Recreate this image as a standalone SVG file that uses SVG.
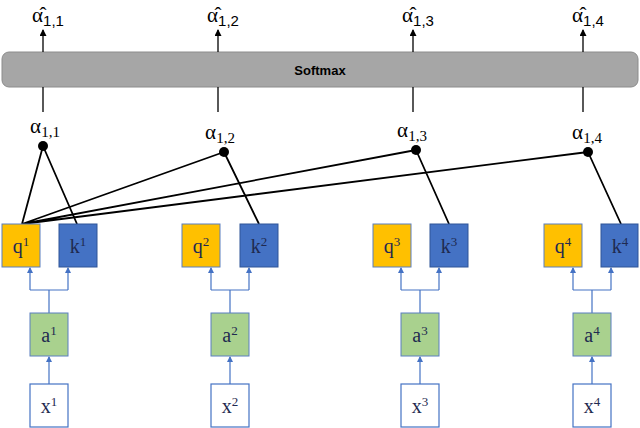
<svg xmlns="http://www.w3.org/2000/svg" width="640" height="428" viewBox="0 0 640 428">
<style>
.q{fill:#ffc000;stroke:#5b7fc0;stroke-width:1}
.k{fill:#4472c4;stroke:#2f5597;stroke-width:1}
.a{fill:#a9d18e;stroke:#5b7fc0;stroke-width:1}
.x{fill:#fff;stroke:#4472c4;stroke-width:1.2}
.t{font-family:"Liberation Serif",serif;font-size:20px;fill:#1f2a50;text-anchor:middle}
.al{font-family:"Liberation Serif",serif;font-size:21px;fill:#000;text-anchor:middle}
.b{stroke:#4472c4;stroke-width:1.2;fill:none}
.k2{stroke:#000;stroke-width:1.8;fill:none}
.ar{stroke:#000;stroke-width:1.3;fill:none}
</style>
<defs>
<marker id="ba" markerWidth="6" markerHeight="6" refX="5" refY="3" orient="auto" markerUnits="userSpaceOnUse"><path d="M0,0L6,3L0,6z" fill="#4472c4"/></marker>
<marker id="ka" markerWidth="7" markerHeight="7" refX="6" refY="3.5" orient="auto" markerUnits="userSpaceOnUse"><path d="M0,0L7,3.5L0,7z" fill="#000"/></marker>
</defs>
<g id="softmax"><rect x="2" y="52" width="636" height="35" rx="7" fill="#a6a6a6" stroke="#8c8c8c"/><text x="320" y="75" font-family="Liberation Sans,sans-serif" font-weight="bold" font-size="13" text-anchor="middle">Softmax</text></g>
<g id="connectors">
<path class="ar" d="M43,52V30" marker-end="url(#ka)"/>
<path class="ar" d="M218,52V30" marker-end="url(#ka)"/>
<path class="ar" d="M413,52V30" marker-end="url(#ka)"/>
<path class="ar" d="M583,52V30" marker-end="url(#ka)"/>
<path class="ar" d="M43,112V87M218,112V87M413,112V87M583,112V87"/>
<path class="k2" d="M22,224L43,146M22,224L224,152M22,224L416,150M22,224L588,152M77,224L43,146M259,224L224,152M449,224L416,150M621,224L588,152"/>
<g fill="#000"><circle cx="43" cy="146" r="5"/><circle cx="224" cy="152" r="5"/><circle cx="416" cy="150" r="5"/><circle cx="588" cy="152" r="5"/></g>
<path class="b" d="M49,313V290M30,290H68"/>
<path class="b" d="M30,290V268" marker-end="url(#ba)"/>
<path class="b" d="M68,290V268" marker-end="url(#ba)"/>
<path class="b" d="M49,384V357" marker-end="url(#ba)"/>
<path class="b" d="M230,313V290M211,290H249"/>
<path class="b" d="M211,290V268" marker-end="url(#ba)"/>
<path class="b" d="M249,290V268" marker-end="url(#ba)"/>
<path class="b" d="M230,384V357" marker-end="url(#ba)"/>
<path class="b" d="M420,313V290M401,290H439"/>
<path class="b" d="M401,290V268" marker-end="url(#ba)"/>
<path class="b" d="M439,290V268" marker-end="url(#ba)"/>
<path class="b" d="M420,384V357" marker-end="url(#ba)"/>
<path class="b" d="M592,313V290M573,290H611"/>
<path class="b" d="M573,290V268" marker-end="url(#ba)"/>
<path class="b" d="M611,290V268" marker-end="url(#ba)"/>
<path class="b" d="M592,384V357" marker-end="url(#ba)"/>
</g>
<g id="labels" class="al">
<text x="48" y="22">α̂<tspan font-family="Liberation Sans,sans-serif" font-size="15" dy="4">1,1</tspan></text>
<text x="223" y="22">α̂<tspan font-family="Liberation Sans,sans-serif" font-size="15" dy="4">1,2</tspan></text>
<text x="418" y="22">α̂<tspan font-family="Liberation Sans,sans-serif" font-size="15" dy="4">1,3</tspan></text>
<text x="588" y="22">α̂<tspan font-family="Liberation Sans,sans-serif" font-size="15" dy="4">1,4</tspan></text>
<text x="45" y="133">α<tspan font-size="15" dy="4">1,1</tspan></text>
<text x="220" y="139">α<tspan font-size="15" dy="4">1,2</tspan></text>
<text x="412" y="137">α<tspan font-size="15" dy="4">1,3</tspan></text>
<text x="587" y="139">α<tspan font-size="15" dy="4">1,4</tspan></text>
</g>
<g id="n1"><rect class="q" x="2" y="224" width="38" height="43"/><text class="t" x="21" y="253">q<tspan font-size="13" dy="-7">1</tspan></text>
<rect class="k" x="59" y="224" width="38" height="43"/><text class="t" x="78" y="253">k<tspan font-size="13" dy="-7">1</tspan></text>
<rect class="a" x="30" y="313" width="38" height="43"/><text class="t" x="49" y="342">a<tspan font-size="13" dy="-7">1</tspan></text>
<rect class="x" x="30" y="384" width="38" height="43"/><text class="t" x="49" y="413">x<tspan font-size="13" dy="-7">1</tspan></text></g>
<g id="n2"><rect class="q" x="182" y="224" width="38" height="43"/><text class="t" x="201" y="253">q<tspan font-size="13" dy="-7">2</tspan></text>
<rect class="k" x="240" y="224" width="38" height="43"/><text class="t" x="259" y="253">k<tspan font-size="13" dy="-7">2</tspan></text>
<rect class="a" x="211" y="313" width="38" height="43"/><text class="t" x="230" y="342">a<tspan font-size="13" dy="-7">2</tspan></text>
<rect class="x" x="211" y="384" width="38" height="43"/><text class="t" x="230" y="413">x<tspan font-size="13" dy="-7">2</tspan></text></g>
<g id="n3"><rect class="q" x="373" y="224" width="38" height="43"/><text class="t" x="392" y="253">q<tspan font-size="13" dy="-7">3</tspan></text>
<rect class="k" x="430" y="224" width="38" height="43"/><text class="t" x="449" y="253">k<tspan font-size="13" dy="-7">3</tspan></text>
<rect class="a" x="401" y="313" width="38" height="43"/><text class="t" x="420" y="342">a<tspan font-size="13" dy="-7">3</tspan></text>
<rect class="x" x="401" y="384" width="38" height="43"/><text class="t" x="420" y="413">x<tspan font-size="13" dy="-7">3</tspan></text></g>
<g id="n4"><rect class="q" x="544" y="224" width="38" height="43"/><text class="t" x="563" y="253">q<tspan font-size="13" dy="-7">4</tspan></text>
<rect class="k" x="601" y="224" width="37" height="43"/><text class="t" x="620" y="253">k<tspan font-size="13" dy="-7">4</tspan></text>
<rect class="a" x="573" y="313" width="38" height="43"/><text class="t" x="592" y="342">a<tspan font-size="13" dy="-7">4</tspan></text>
<rect class="x" x="573" y="384" width="38" height="43"/><text class="t" x="592" y="413">x<tspan font-size="13" dy="-7">4</tspan></text></g>
</svg>
